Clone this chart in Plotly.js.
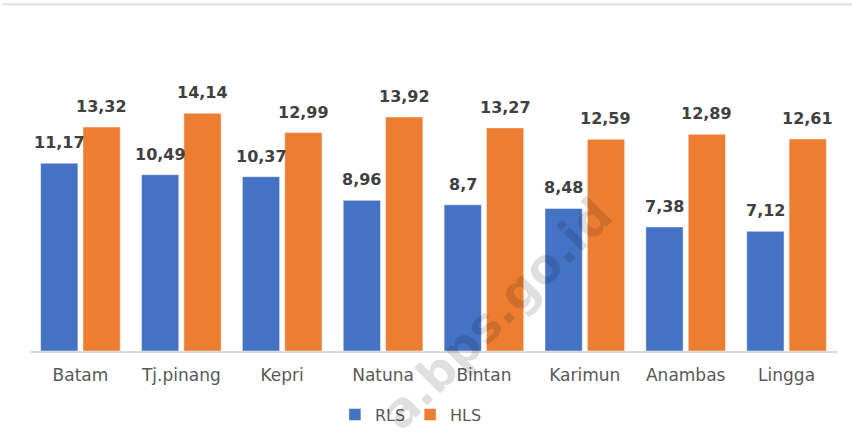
<!DOCTYPE html>
<html>
<head>
<meta charset="utf-8">
<script src="https://cdn.plot.ly/plotly-3.0.1.min.js"></script>
<style>
html,body{margin:0;padding:0;background:#fff;}
#chart{width:852px;height:443px;}
</style>
</head>
<body>
<div id="chart"></div>
<script>
const categories = ["Batam", "Tj.pinang", "Kepri", "Natuna", "Bintan", "Karimun", "Anambas", "Lingga"];
const rls = [11.17, 10.49, 10.37, 8.96, 8.7, 8.48, 7.38, 7.12];
const hls = [13.32, 14.14, 12.99, 13.92, 13.27, 12.59, 12.89, 12.61];
const seriesNames = ["RLS", "HLS"];
const watermarkText = "a.bps.go.id";

const W = 852, H = 443;
const margin = {l: 30, r: 15, t: 82, b: 91};
const plotW = W - margin.l - margin.r;
const bargap = 0.16;
const catW = plotW / categories.length;
const barOffset = catW * (1 - bargap) / 4;

function fmt(v) { return String(v).replace('.', ','); }

const annotations = [];
[[rls, -barOffset], [hls, barOffset]].forEach(([vals, dx]) => {
  vals.forEach((v, i) => {
    annotations.push({
      x: categories[i], y: v, xref: 'x', yref: 'y',
      text: fmt(v), showarrow: false,
      xanchor: 'center', yanchor: 'bottom',
      xshift: dx, yshift: 9,
      font: {family: 'DejaVu Sans', size: 16, color: '#404040', weight: 'bold'}
    });
  });
});
annotations.push({
  xref: 'paper', yref: 'paper', x: 0.578, y: 0.14,
  text: '<b>' + watermarkText + '</b>', showarrow: false,
  textangle: -45, xanchor: 'center', yanchor: 'middle',
  font: {family: 'DejaVu Sans', size: 48, color: 'rgba(0,0,0,0.13)'}
});

const traces = [
  {type: 'bar', name: seriesNames[0], x: categories, y: rls,
   marker: {color: '#4472C4', line: {color: 'rgba(255,255,255,0.6)', width: 0.8}}, hoverinfo: 'none'},
  {type: 'bar', name: seriesNames[1], x: categories, y: hls,
   marker: {color: '#ED7D31', line: {color: 'rgba(255,255,255,0.6)', width: 0.8}}, hoverinfo: 'none'}
];

const layout = {
  width: W, height: H,
  margin: margin,
  paper_bgcolor: '#ffffff', plot_bgcolor: '#ffffff',
  barmode: 'group', bargap: bargap, bargroupgap: 0.12,
  font: {family: 'DejaVu Sans', color: '#595959'},
  xaxis: {
    showline: true, linecolor: '#d9d9d9', linewidth: 1.5,
    ticks: '', showgrid: false, zeroline: false,
    tickfont: {family: 'DejaVu Sans', size: 17, color: '#595959'},
    ticklabelstandoff: 8
  },
  yaxis: {
    range: [0, 16], showgrid: false, zeroline: false, showline: false,
    showticklabels: false, ticks: ''
  },
  showlegend: true,
  legend: {
    orientation: 'h', x: 0.472, xanchor: 'center', y: -0.232, yanchor: 'middle',
    font: {family: 'DejaVu Sans', size: 16, color: '#595959'},
    itemclick: false, itemdoubleclick: false
  },
  shapes: [{
    type: 'line', xref: 'paper', yref: 'paper',
    x0: (2 - margin.l) / plotW, x1: (W - margin.l) / plotW,
    y0: (H - margin.b - 4) / (H - margin.t - margin.b),
    y1: (H - margin.b - 4) / (H - margin.t - margin.b),
    line: {color: '#e0e0e0', width: 2}
  }],
  annotations: annotations
};

Plotly.newPlot('chart', traces, layout, {staticPlot: true, displayModeBar: false});
</script>
</body>
</html>
